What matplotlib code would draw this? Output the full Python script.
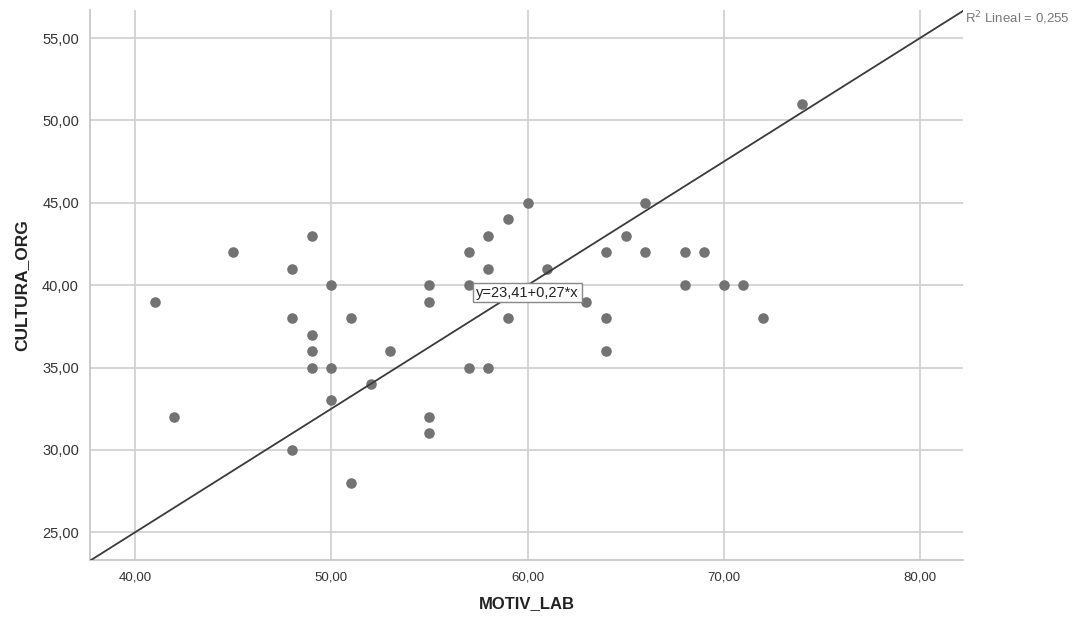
#!/usr/bin/env python
# coding: utf-8
"""
Scatter plot CULTURA_ORG vs MOTIV_LAB with the linear fit line (SPSS style).
"""
import numpy as np
import matplotlib
matplotlib.use('Agg')
from matplotlib import pyplot as plt

plt.rcParams['font.family'] = ['Liberation Sans', 'DejaVu Sans']

motiv_lab = [41, 42, 45, 48, 48, 48, 49, 49, 49, 49, 50, 50, 50, 51, 51,
             52, 53, 55, 55, 55, 55, 57, 57, 57, 58, 58, 58, 59, 59, 60,
             61, 63, 64, 64, 64, 65, 66, 66, 68, 68, 69, 70, 71, 72, 74]
cultura_org = [39, 32, 42, 41, 38, 30, 43, 37, 36, 35, 40, 35, 33, 38, 28,
               34, 36, 40, 39, 32, 31, 42, 40, 35, 43, 41, 35, 44, 38, 45,
               41, 39, 42, 38, 36, 43, 45, 42, 42, 40, 42, 40, 40, 38, 51]

# line as it is drawn in the chart, and the labels shown with it
line_intercept = -5.0
line_slope = 0.75
equation_label = 'y=23,41+0,27*x'
r2_label = 'R$^2$ Lineal = 0,255'

x_ticks = [40, 50, 60, 70, 80]
y_ticks = [25, 30, 35, 40, 45, 50, 55]
x_lim = (37.7, 82.2)
y_lim = (23.3, 56.7)


def fmt(v):
    return '{:.2f}'.format(v).replace('.', ',')


fig = plt.figure(figsize=(10.78, 6.26), dpi=100)
ax = fig.add_axes([0.0835, 0.105, 0.81, 0.879])

ax.scatter(motiv_lab, cultura_org, s=58, color='#737373', zorder=3, linewidths=0)

xs = np.array(x_lim)
ax.plot(xs, line_intercept + line_slope * xs, color='#3a3a3a', lw=1.3, zorder=4)

ax.set_xlim(*x_lim)
ax.set_ylim(*y_lim)
ax.set_xticks(x_ticks)
ax.set_yticks(y_ticks)
ax.set_xticklabels([fmt(v) for v in x_ticks])
ax.set_yticklabels([fmt(v) for v in y_ticks])
ax.tick_params(length=0, labelcolor='#333333')
ax.tick_params(axis='x', pad=8, labelsize=9.5)
ax.tick_params(axis='y', pad=8, labelsize=10.5)
ax.grid(True, color='#d2d2d2', lw=1.3, zorder=0)
ax.set_axisbelow(True)
for side in ['top', 'right']:
    ax.spines[side].set_visible(False)
for side in ['left', 'bottom']:
    ax.spines[side].set_color('#c8c8c8')
    ax.spines[side].set_linewidth(1.3)

ax.set_xlabel('MOTIV_LAB', fontsize=12, fontweight='bold', color='#222222', labelpad=9)
ax.set_ylabel('CULTURA_ORG', fontsize=12.5, fontweight='bold', color='#222222', labelpad=9)

ax.text(60.0, 39.55, equation_label, fontsize=10.5, color='#222222', ha='center', va='center',
        zorder=5, bbox=dict(boxstyle='square,pad=0.2', facecolor='white', edgecolor='#888888', lw=1))
ax.text(1.002, 0.985, r2_label, transform=ax.transAxes, fontsize=9.5, color='#777777',
        ha='left', va='center')

plt.savefig('out.png', dpi=100)
